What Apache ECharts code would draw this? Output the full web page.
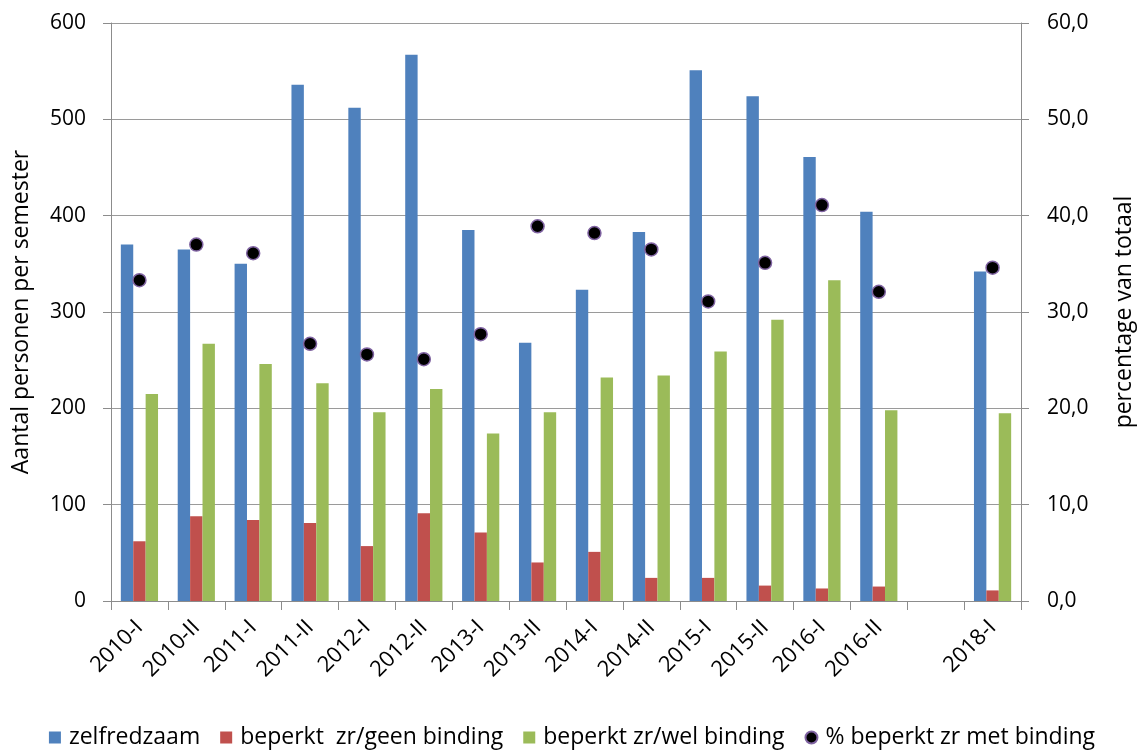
<!DOCTYPE html>
<html>
<head>
<meta charset="utf-8">
<script src="https://cdn.jsdelivr.net/npm/echarts@6/dist/echarts.min.js"></script>
<style>
html,body{margin:0;padding:0;background:#fff;}
#c{width:1144px;height:751px;}
</style>
</head>
<body>
<div id="c"></div>
<script>
const categories = ['2010-I','2010-II','2011-I','2011-II','2012-I','2012-II','2013-I','2013-II','2014-I','2014-II','2015-I','2015-II','2016-I','2016-II','','2018-I'];
const zelfredzaam = [370,365,350,536,512,567,385,268,323,383,551,524,461,404,null,342];
const geenBinding = [62,88,84,81,57,91,71,40,51,24,24,16,13,15,null,11];
const welBinding = [215,267,246,226,196,220,174,196,232,234,259,292,333,198,null,195];
const pctMetBinding = [33.3,37.0,36.1,26.7,25.6,25.1,27.7,38.9,38.2,36.5,31.1,35.1,41.1,32.1,null,34.6];
const leftTicks = [0,100,200,300,400,500,600];
const rightTicks = ['0,0','10,0','20,0','30,0','40,0','50,0','60,0'];

const FONT = '"Open Sans", Lato, sans-serif';
const chart = echarts.init(document.getElementById('c'));
chart.setOption({
  animation:false,
  textStyle:{fontFamily:FONT,color:'#000'},
  grid:{left:111,right:116,top:23,bottom:150},
  legend:{
    top:721,left:'center',
    itemWidth:12,itemHeight:12,itemGap:20,
    textStyle:{fontSize:23,fontFamily:FONT,color:'#000',padding:[0,0,0,3]},
    data:[
      {name:'zelfredzaam',icon:'rect'},
      {name:'beperkt  zr/geen binding',icon:'rect'},
      {name:'beperkt zr/wel binding',icon:'rect'},
      {name:'% beperkt zr met binding',icon:'circle'}
    ]
  },
  xAxis:{
    type:'category',data:categories,
    axisLine:{lineStyle:{color:'#8c8c8c'}},
    axisTick:{show:true,length:9,lineStyle:{color:'#8c8c8c'}},
    axisLabel:{rotate:45,fontSize:22,color:'#000',fontFamily:FONT,margin:23,interval:0},
    splitLine:{show:false}
  },
  yAxis:[
    {
      type:'value',min:leftTicks[0],max:leftTicks[leftTicks.length-1],interval:100,
      name:'Aantal personen per semester',nameLocation:'middle',nameGap:78,
      nameTextStyle:{fontSize:23,color:'#000',fontFamily:FONT},
      axisLine:{show:true,lineStyle:{color:'#8c8c8c'}},
      axisTick:{show:true,length:8,lineStyle:{color:'#8c8c8c'}},
      axisLabel:{fontSize:21,color:'#000',margin:25,fontFamily:FONT},
      splitLine:{show:true,lineStyle:{color:'#9a9a9a',width:1}}
    },
    {
      type:'value',min:0,max:60,interval:10,position:'right',
      name:'percentage van totaal',nameLocation:'middle',nameGap:92,nameRotate:90,
      nameTextStyle:{fontSize:23,color:'#000',fontFamily:FONT},
      axisLine:{show:true,lineStyle:{color:'#8c8c8c'}},
      axisTick:{show:true,length:8,lineStyle:{color:'#8c8c8c'}},
      axisLabel:{fontSize:21,color:'#000',margin:26,fontFamily:FONT,
        formatter:function(v){return rightTicks[Math.round(v/10)];}},
      splitLine:{show:false}
    }
  ],
  series:[
    {name:'zelfredzaam',type:'bar',data:zelfredzaam,barWidth:12.4,barGap:'0%',itemStyle:{color:'#4F81BD'}},
    {name:'beperkt  zr/geen binding',type:'bar',data:geenBinding,barWidth:12.4,barGap:'0%',itemStyle:{color:'#C0504D'}},
    {name:'beperkt zr/wel binding',type:'bar',data:welBinding,barWidth:12.4,barGap:'0%',itemStyle:{color:'#9BBB59'}},
    {name:'% beperkt zr met binding',type:'line',yAxisIndex:1,data:pctMetBinding,
      symbol:'circle',symbolSize:13,lineStyle:{width:0,opacity:0},
      itemStyle:{color:'#000',borderColor:'#8064A2',borderWidth:1.5},z:5}
  ]
});
</script>
</body>
</html>
